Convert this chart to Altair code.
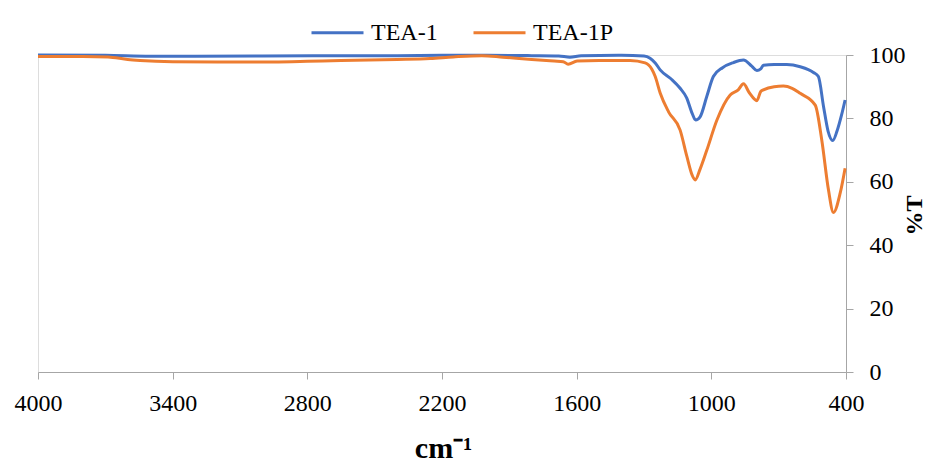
import altair as alt
import pandas as pd

# TEA-1 (blue)
tea1_wn = [4000, 3700, 3500, 3300, 3000, 2700, 2400, 2200, 2000, 1800, 1680, 1630, 1580,
           1400, 1300, 1273, 1250, 1228, 1180, 1139, 1110, 1085, 1070, 1050, 1020, 991, 950,
           902, 857, 820, 797, 780, 768, 720, 664, 604, 545, 523, 500, 480, 459, 440, 420, 404]
tea1_t = [100, 99.9, 99.6, 99.6, 99.7, 99.8, 99.8, 99.9, 99.9, 99.8, 99.7, 99.3, 99.8,
          99.9, 99.7, 99.0, 97.5, 95.3, 92.5, 89.5, 86.5, 81.5, 79.5, 80.5, 87.0, 93.2, 96.0,
          97.6, 98.4, 96.5, 95.1, 95.6, 96.8, 97.0, 97.0, 96.3, 94.5, 93.2, 83.7, 76.0, 73.0, 76.0, 81.0, 85.8]

# TEA-1P (orange)
tea1p_wn = [4000, 3800, 3688, 3600, 3545, 3400, 3200, 2950, 2800, 2650, 2400, 2253, 2150,
            2022, 1928, 1800, 1700, 1660, 1638, 1598, 1500, 1362, 1295, 1265, 1250, 1228,
            1190, 1139, 1109, 1085, 1072, 1050, 1020, 975, 916, 880, 857, 830, 797, 780, 768,
            720, 679, 640, 604, 537, 508, 478, 456, 426, 404]
tea1p_t = [99.5, 99.5, 99.4, 98.6, 98.3, 97.9, 97.8, 97.8, 98.0, 98.3, 98.6, 98.9, 99.4,
           99.8, 99.3, 98.6, 98.1, 97.9, 97.1, 98.1, 98.3, 98.3, 97.5, 95.5, 93.2, 88.0,
           82.0, 76.3, 68.0, 62.0, 60.6, 64.0, 70.0, 79.5, 87.4, 89.0, 90.9, 88.0, 85.6, 88.5, 89.0,
           90.0, 90.2, 89.5, 87.9, 84.2, 73.2, 57.4, 50.3, 56.4, 64.3]

series_names = ["TEA-1", "TEA-1P"]
series_colors = ["#4472C4", "#ED7D31"]
x_ticks = [4000, 3400, 2800, 2200, 1600, 1000, 400]
y_ticks = [0, 20, 40, 60, 80, 100]

df = pd.concat([
    pd.DataFrame({"wn": tea1_wn, "T": tea1_t, "series": series_names[0], "order": range(len(tea1_wn))}),
    pd.DataFrame({"wn": tea1p_wn, "T": tea1p_t, "series": series_names[1], "order": range(len(tea1p_wn))}),
])

FONT = "Liberation Serif"
AX = "#A6A6A6"

chart = alt.Chart(df).mark_line(strokeWidth=3, interpolate="monotone").encode(
    x=alt.X("wn:Q",
            scale=alt.Scale(domain=[400, 4000], reverse=True, nice=False, zero=False),
            axis=alt.Axis(values=x_ticks, format="d", title="cm⁻¹", grid=False, domainColor=AX,
                          tickColor=AX, tickSize=7, labelFontSize=24, labelFont=FONT,
                          labelColor="black", labelPadding=12, titleFont=FONT, titleFontSize=30,
                          titleFontWeight="bold", titleColor="black", titleX=405, titleY=85,
                          titleBaseline="alphabetic", titleAlign="center", labelFlush=False)),
    y=alt.Y("T:Q",
            scale=alt.Scale(domain=[0, 100], nice=False),
            axis=alt.Axis(orient="right", values=y_ticks, title="%T", grid=False, domainColor=AX,
                          tickColor=AX, tickSize=7, labelFontSize=24, labelFont=FONT,
                          labelColor="black", labelPadding=16, titleFont=FONT, titleFontSize=24,
                          titleFontWeight="bold", titleColor="black", titleAngle=270,
                          titleX=68, titleY=160, titleAlign="center", titleBaseline="middle")),
    color=alt.Color("series:N",
                    scale=alt.Scale(domain=series_names, range=series_colors),
                    legend=alt.Legend(title=None, orient="none", direction="horizontal",
                                      legendX=272, legendY=-50, symbolType="stroke",
                                      symbolSize=2704, symbolStrokeWidth=3, labelFont=FONT,
                                      labelFontSize=24, labelColor="black", labelOffset=6,
                                      columnPadding=29, padding=0)),
    order="order:Q",
).properties(
    width=808, height=317,
    autosize=alt.AutoSizeParams(type="none"),
    padding={"left": 38, "top": 55, "right": 86, "bottom": 96},
).configure_view(stroke=None).configure(background="white")

chart.save("out.html", embed_options={"renderer": "svg", "actions": False})
